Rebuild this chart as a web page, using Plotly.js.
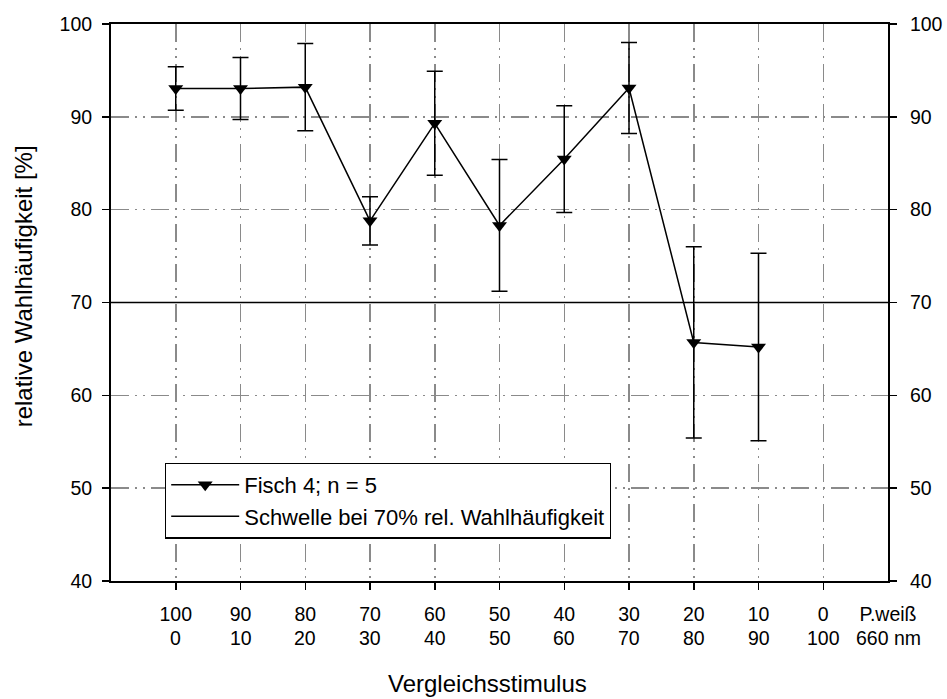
<!DOCTYPE html>
<html>
<head>
<meta charset="utf-8">
<script src="https://cdn.plot.ly/plotly-3.0.1.min.js"></script>
<style>html,body{margin:0;padding:0;background:#fff;}#chart{width:947px;height:699px;}</style>
</head>
<body>
<div id="chart"></div>
<script>
// Categories (positions 1..11) and their two-row labels
const categories = [1, 2, 3, 4, 5, 6, 7, 8, 9, 10, 11];
const labelRow1 = ["100", "90", "80", "70", "60", "50", "40", "30", "20", "10", "0"];
const labelRow2 = ["0", "10", "20", "30", "40", "50", "60", "70", "80", "90", "100"];
const unitRow1 = "P.weiß";
const unitRow2 = "660 nm";
const unitPos = 12;

// Series: Fisch 4; n = 5 (mean relative choice frequency and error)
const fishX = [1, 2, 3, 4, 5, 6, 7, 8, 9, 10];
const fishY = [93.05, 93.05, 93.2, 78.8, 89.3, 78.3, 85.45, 93.1, 65.7, 65.2];
const fishErr = [2.35, 3.35, 4.7, 2.6, 5.6, 7.1, 5.75, 4.9, 10.3, 10.1];

// Threshold
const thresholdX = [0, 12];
const thresholdY = [70, 70];

const yTicks = [40, 50, 60, 70, 80, 90, 100];

const font = "Liberation Sans, Arial, sans-serif";
const gridDash = "18px,6px,2px,6px,2px,6px";
const gridColor = "#8a8a8a";

const traces = [
  {
    x: fishX, y: fishY, type: "scatter", mode: "lines+markers",
    name: "Fisch 4; n = 5",
    line: {color: "#000", width: 1.5},
    marker: {symbol: "triangle-down", size: 13, color: "#000"},
    error_y: {type: "data", array: fishErr, visible: true, color: "#000", thickness: 1.5, width: 8},
    xaxis: "x", yaxis: "y"
  },
  {
    x: thresholdX, y: thresholdY, type: "scatter", mode: "lines",
    name: "Schwelle bei 70% rel. Wahlhäufigkeit",
    line: {color: "#000", width: 1.5},
    xaxis: "x2", yaxis: "y2"
  }
];

const annotations = labelRow2.concat([unitRow2]).map((t, i) => ({
  text: t, x: i < labelRow2.length ? categories[i] : unitPos, xref: "x", yref: "paper",
  y: -0.1015, xanchor: "center", yanchor: "middle", showarrow: false,
  font: {family: font, size: 19.5, color: "#000"}
}));
annotations.push({
  text: "Vergleichsstimulus", xref: "paper", yref: "paper", x: 0.484, y: -0.1832,
  xanchor: "center", yanchor: "middle", showarrow: false,
  font: {family: font, size: 24, color: "#000"}
});
annotations.push({
  text: "relative Wahlhäufigkeit [%]", xref: "paper", yref: "paper", x: -0.1133, y: 0.529,
  xanchor: "center", yanchor: "middle", showarrow: false, textangle: -90,
  font: {family: font, size: 24, color: "#000"}
});

const layout = {
  width: 947, height: 699,
  margin: {l: 111, r: 59, t: 24, b: 118},
  paper_bgcolor: "#fff", plot_bgcolor: "#fff",
  font: {family: font, size: 20, color: "#000"},
  showlegend: true,
  legend: {
    x: 0.0695, y: 0.2125, xanchor: "left", yanchor: "top",
    bgcolor: "#fff", bordercolor: "#000", borderwidth: 1.2,
    font: {family: font, size: 22, color: "#000"},
    tracegroupgap: 0, itemwidth: 68, entrywidth: 450
  },
  annotations: annotations,
  xaxis: {
    range: [0, 12], tickvals: categories, ticktext: categories.map(() => ""),
    ticks: "outside", ticklen: 7, tickwidth: 1.5, tickcolor: "#000",
    showline: true, linecolor: "#000", linewidth: 2, mirror: true,
    showgrid: true, gridcolor: gridColor, gridwidth: 1.5, griddash: gridDash,
    zeroline: false, fixedrange: true
  },
  xaxis2: {
    overlaying: "x", side: "bottom", anchor: "y2", range: [0, 12],
    tickvals: categories.concat([unitPos]), ticktext: labelRow1.concat([unitRow1]),
    ticks: "", showline: false, showgrid: false, zeroline: false,
    ticklabelstandoff: 19, tickfont: {family: font, size: 19.5}
  },
  yaxis: {
    range: [40, 100], tickvals: yTicks,
    ticks: "outside", ticklen: 7, tickwidth: 1.5, tickcolor: "#000",
    showline: true, linecolor: "#000", linewidth: 2,
    showgrid: true, gridcolor: gridColor, gridwidth: 1.5, griddash: gridDash,
    zeroline: false, fixedrange: true, ticklabelstandoff: 6,
    tickfont: {family: font, size: 19.5}
  },
  yaxis2: {
    overlaying: "y", side: "right", anchor: "x2", range: [40, 100], tickvals: yTicks,
    ticks: "outside", ticklen: 7, tickwidth: 1.5, tickcolor: "#000",
    showline: true, linecolor: "#000", linewidth: 2,
    showgrid: false, zeroline: false, ticklabelstandoff: 9,
    tickfont: {family: font, size: 19.5}
  }
};

Plotly.newPlot("chart", traces, layout, {staticPlot: true, displayModeBar: false});
</script>
</body>
</html>
